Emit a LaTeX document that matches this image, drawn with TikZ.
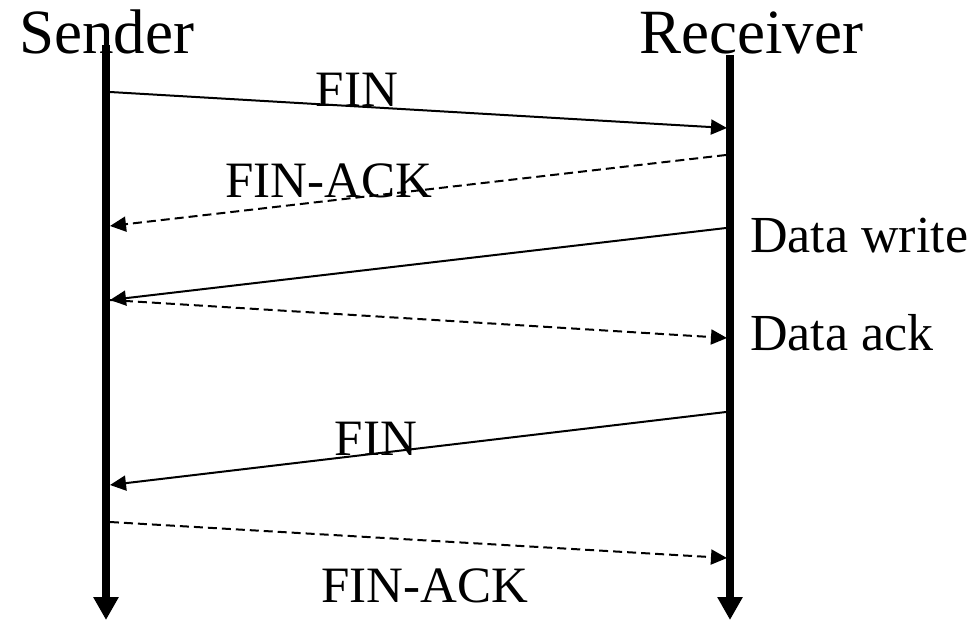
\documentclass[tikz,border=0pt]{standalone}
\usepackage{fontspec}
\setmainfont{Liberation Serif}
\usetikzlibrary{arrows.meta}
\begin{document}
\begin{tikzpicture}[x=1pt,y=-1pt,
  lifeline/.style={line width=8pt,-{Triangle[width=24pt,length=23pt]}},
  msg/.style={line width=2pt,-{Triangle[width=15pt,length=16pt]}},
  dmsg/.style={msg,dash pattern=on 9pt off 5pt},
  head/.style={inner sep=0pt,anchor=base west,font=\fontsize{63}{63}\selectfont},
  lbl/.style={inner sep=0pt,anchor=base,font=\fontsize{51}{51}\selectfont},
  side/.style={inner sep=0pt,anchor=base west,font=\fontsize{52}{52}\selectfont}]
\useasboundingbox (0,0) rectangle (976,621);
% lifeline ends
\coordinate (stop) at (106,45);
\coordinate (sbot) at (106,620);
\coordinate (rtop) at (730,55);
\coordinate (rbot) at (730,620);
% message points
\coordinate (a1) at (110,92);  \coordinate (b1) at (727,128);
\coordinate (a2) at (726,155); \coordinate (b2) at (110,226);
\coordinate (a3) at (726,228); \coordinate (b3) at (110,300);
\coordinate (a4) at (110,300); \coordinate (b4) at (727,338);
\coordinate (a5) at (726,412); \coordinate (b5) at (110,485);
\coordinate (a6) at (110,522); \coordinate (b6) at (727,558);
\draw[lifeline] (stop) -- (sbot);
\draw[lifeline] (rtop) -- (rbot);
\draw[msg] (a1) -- (b1);
\draw[dmsg] (a2) -- (b2);
\draw[msg] (a3) -- (b3);
\draw[dmsg] (a4) -- (b4);
\draw[msg] (a5) -- (b5);
\draw[dmsg] (a6) -- (b6);
\node[head] (sender) at (19,53) {Sender};
\node[head] (receiver) at (639,53) {Receiver};
\node[lbl] (fin1) at (357,106) {FIN};
\node[lbl] (finack1) at (329,197) {FIN-ACK};
\node[side] (dw) at (750,252) {Data write};
\node[side] (da) at (750,350) {Data ack};
\node[lbl] (fin2) at (376,455) {FIN};
\node[lbl] (finack2) at (425,602) {FIN-ACK};
\end{tikzpicture}
\end{document}
